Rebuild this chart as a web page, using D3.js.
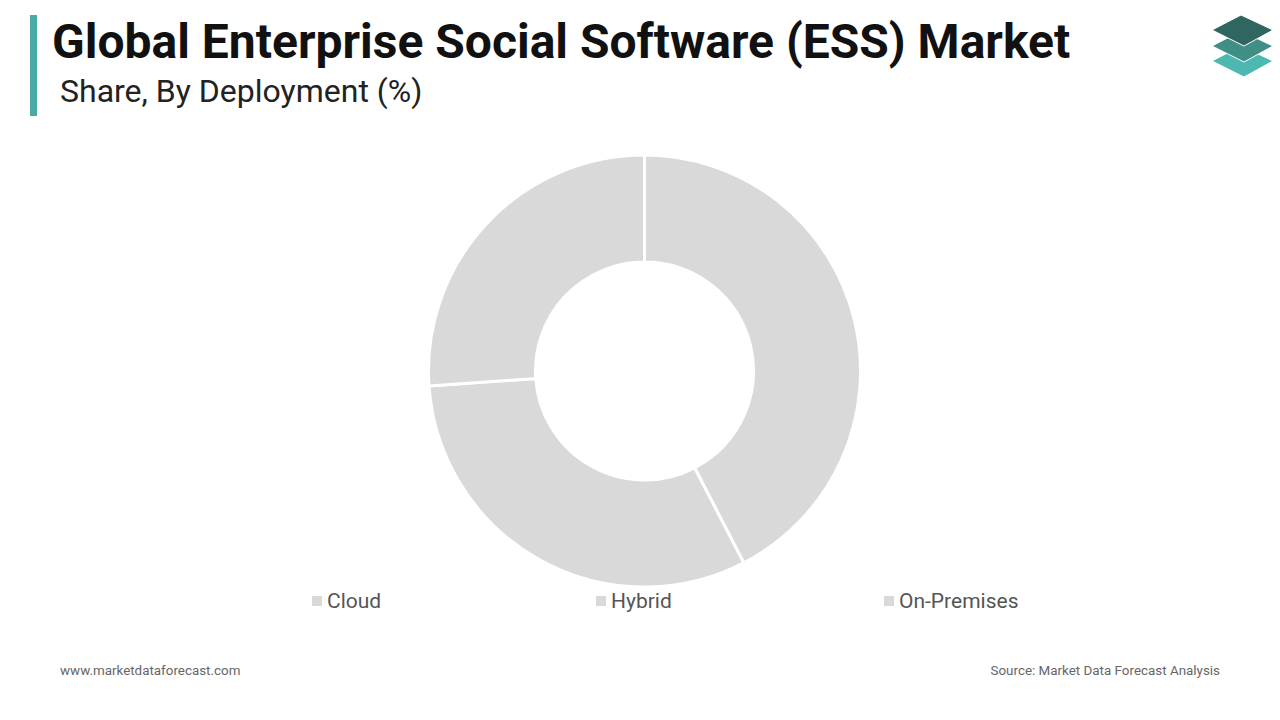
<!DOCTYPE html>
<html>
<head>
<meta charset="utf-8">
<script src="https://cdn.jsdelivr.net/npm/d3@7"></script>
<style>
  html, body { margin: 0; padding: 0; background: #ffffff; }
  svg { display: block; }
  text { font-family: Roboto, "Noto Sans", sans-serif; }
</style>
</head>
<body>
<svg id="chart" width="1280" height="720"></svg>
<script>
const categories = ["Cloud", "Hybrid", "On-Premises"];
const shares = [42.4, 31.5, 26.1];
const sliceColors = ["#d9d9d9", "#d9d9d9", "#d9d9d9"];
const titleText = "Global Enterprise Social Software (ESS) Market";
const subtitleText = "Share, By Deployment (%)";
const footerLeft = "www.marketdataforecast.com";
const footerRight = "Source: Market Data Forecast Analysis";

const svg = d3.select("#chart");

// accent bar
svg.append("rect").attr("x", 30).attr("y", 15).attr("width", 7).attr("height", 101).attr("fill", "#4aaaa5");

svg.append("text").attr("x", 52).attr("y", 58)
  .attr("font-size", 48).attr("font-weight", 700).attr("fill", "#111")
  .text(titleText);
svg.append("text").attr("x", 60).attr("y", 102)
  .attr("font-size", 32).attr("fill", "#222")
  .text(subtitleText);

// logo
const logo = svg.append("g");
const layers = [
  {dy: 31, color: "#4db8b0"},
  {dy: 16, color: "#3f8f86"},
  {dy: 0, color: "#2f665f"}
];
layers.forEach(l => {
  logo.append("path")
    .attr("d", `M1212,${30 + l.dy} L1241,${15 + l.dy} L1273,${30 + l.dy} L1244,${46 + l.dy} Z`)
    .attr("fill", l.color)
    .attr("stroke", "#ffffff").attr("stroke-width", 1);
});

// donut
const cx = 644.5, cy = 371, rOuter = 216, rInner = 109;
const pie = d3.pie().sort(null).value(d => d);
const arc = d3.arc().innerRadius(rInner).outerRadius(rOuter);
const g = svg.append("g").attr("transform", `translate(${cx},${cy})`);
g.selectAll("path").data(pie(shares)).join("path")
  .attr("d", arc)
  .attr("fill", (d, i) => sliceColors[i])
  .attr("stroke", "#ffffff").attr("stroke-width", 3);

// legend
const legendX = d3.scaleOrdinal().domain(categories).range([312, 596, 884]);
const lg = svg.append("g");
categories.forEach((c, i) => {
  const x = legendX(c);
  lg.append("rect").attr("x", x).attr("y", 596).attr("width", 10).attr("height", 10).attr("fill", sliceColors[i]);
  lg.append("text").attr("x", x + 15).attr("y", 608)
    .attr("font-size", 21).attr("fill", "#555").text(c);
});

// footer
svg.append("text").attr("x", 60).attr("y", 675).attr("font-size", 13.4).attr("fill", "#666").text(footerLeft);
svg.append("text").attr("x", 1220).attr("y", 675).attr("font-size", 13.4).attr("fill", "#666")
  .attr("text-anchor", "end").text(footerRight);
</script>
</body>
</html>
